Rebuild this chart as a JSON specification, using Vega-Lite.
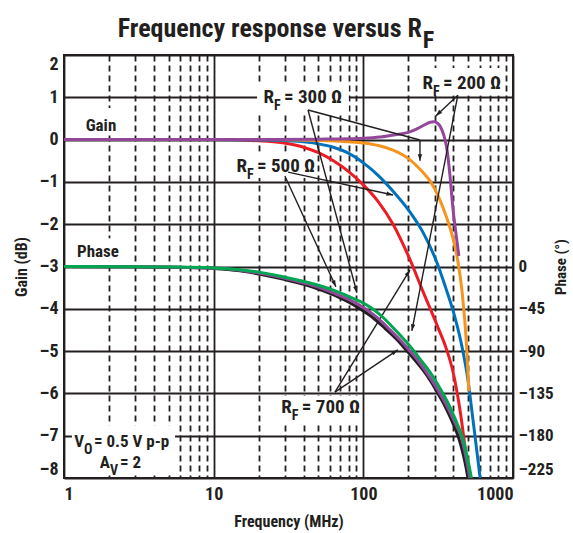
{
  "$schema": "https://vega.github.io/schema/vega-lite/v6.json",
  "width": 449,
  "height": 423,
  "autosize": {"type": "none"},
  "padding": {"left": 64, "top": 55, "right": 60, "bottom": 55},
  "background": "white",
  "config": {
    "font": "Roboto Condensed, Liberation Sans, Arial, sans-serif",
    "view": {"stroke": "#231f20", "strokeWidth": 2},
    "axis": {
      "labelFontWeight": "bold",
      "labelFontSize": 18,
      "labelColor": "#231f20",
      "titleFontWeight": "bold",
      "titleFontSize": 16,
      "titleColor": "#231f20"
    }
  },
  "datasets": {
    "gain": [
      {"rf": "700", "f": 1, "g": 0}, {"rf": "700", "f": 10, "g": 0}, {"rf": "700", "f": 20, "g": -0.03}, {"rf": "700", "f": 31.6, "g": -0.1}, {"rf": "700", "f": 39.8, "g": -0.18}, {"rf": "700", "f": 50.1, "g": -0.31}, {"rf": "700", "f": 63.1, "g": -0.5}, {"rf": "700", "f": 79.4, "g": -0.75}, {"rf": "700", "f": 100, "g": -1.07}, {"rf": "700", "f": 126, "g": -1.47}, {"rf": "700", "f": 158, "g": -2.0}, {"rf": "700", "f": 200, "g": -2.75}, {"rf": "700", "f": 251, "g": -3.6}, {"rf": "700", "f": 316, "g": -4.45}, {"rf": "700", "f": 355, "g": -4.9}, {"rf": "700", "f": 398, "g": -5.5}, {"rf": "700", "f": 447, "g": -6.5}, {"rf": "700", "f": 479, "g": -7.3},
      {"rf": "500", "f": 1, "g": 0}, {"rf": "500", "f": 10, "g": 0}, {"rf": "500", "f": 20, "g": -0.01}, {"rf": "500", "f": 31.6, "g": -0.03}, {"rf": "500", "f": 50.1, "g": -0.1}, {"rf": "500", "f": 63.1, "g": -0.18}, {"rf": "500", "f": 79.4, "g": -0.32}, {"rf": "500", "f": 100, "g": -0.55}, {"rf": "500", "f": 126, "g": -0.85}, {"rf": "500", "f": 158, "g": -1.22}, {"rf": "500", "f": 200, "g": -1.66}, {"rf": "500", "f": 251, "g": -2.2}, {"rf": "500", "f": 316, "g": -2.98}, {"rf": "500", "f": 355, "g": -3.5}, {"rf": "500", "f": 398, "g": -4.05}, {"rf": "500", "f": 447, "g": -4.75}, {"rf": "500", "f": 501, "g": -5.7}, {"rf": "500", "f": 537, "g": -6.55}, {"rf": "500", "f": 575, "g": -7.4}, {"rf": "500", "f": 603, "g": -8.0},
      {"rf": "300", "f": 1, "g": 0}, {"rf": "300", "f": 20, "g": 0}, {"rf": "300", "f": 50.1, "g": -0.02}, {"rf": "300", "f": 79.4, "g": -0.05}, {"rf": "300", "f": 100, "g": -0.08}, {"rf": "300", "f": 126, "g": -0.14}, {"rf": "300", "f": 158, "g": -0.25}, {"rf": "300", "f": 200, "g": -0.45}, {"rf": "300", "f": 224, "g": -0.6}, {"rf": "300", "f": 251, "g": -0.78}, {"rf": "300", "f": 282, "g": -1.0}, {"rf": "300", "f": 316, "g": -1.33}, {"rf": "300", "f": 355, "g": -1.78}, {"rf": "300", "f": 398, "g": -2.35}, {"rf": "300", "f": 427, "g": -2.85}, {"rf": "300", "f": 457, "g": -3.6}, {"rf": "300", "f": 490, "g": -4.9}, {"rf": "300", "f": 507, "g": -5.95},
      {"rf": "200", "f": 1, "g": 0}, {"rf": "200", "f": 20, "g": 0}, {"rf": "200", "f": 50, "g": 0.01}, {"rf": "200", "f": 80, "g": 0.02}, {"rf": "200", "f": 100, "g": 0.03}, {"rf": "200", "f": 130, "g": 0.06}, {"rf": "200", "f": 168, "g": 0.12}, {"rf": "200", "f": 200, "g": 0.17}, {"rf": "200", "f": 230, "g": 0.26}, {"rf": "200", "f": 260, "g": 0.36}, {"rf": "200", "f": 280, "g": 0.41}, {"rf": "200", "f": 295, "g": 0.42}, {"rf": "200", "f": 315, "g": 0.38}, {"rf": "200", "f": 335, "g": 0.23}, {"rf": "200", "f": 350, "g": 0.02}, {"rf": "200", "f": 362, "g": -0.23}, {"rf": "200", "f": 379, "g": -0.84}, {"rf": "200", "f": 397, "g": -1.63}, {"rf": "200", "f": 410, "g": -2.05}, {"rf": "200", "f": 422, "g": -2.4}, {"rf": "200", "f": 435, "g": -2.75}
    ],
    "phase": [
      {"c": "P1", "f": 1, "p": 0}, {"c": "P1", "f": 3, "p": -0.3}, {"c": "P1", "f": 5, "p": -0.7}, {"c": "P1", "f": 10, "p": -2}, {"c": "P1", "f": 15, "p": -4.5}, {"c": "P1", "f": 20, "p": -8}, {"c": "P1", "f": 30, "p": -14}, {"c": "P1", "f": 40, "p": -19}, {"c": "P1", "f": 50, "p": -24}, {"c": "P1", "f": 65, "p": -31}, {"c": "P1", "f": 80, "p": -38}, {"c": "P1", "f": 95, "p": -45}, {"c": "P1", "f": 115, "p": -54}, {"c": "P1", "f": 140, "p": -66}, {"c": "P1", "f": 168, "p": -78}, {"c": "P1", "f": 196, "p": -90}, {"c": "P1", "f": 222, "p": -100}, {"c": "P1", "f": 250, "p": -110}, {"c": "P1", "f": 282, "p": -122}, {"c": "P1", "f": 315, "p": -135}, {"c": "P1", "f": 342, "p": -145}, {"c": "P1", "f": 370, "p": -156}, {"c": "P1", "f": 400, "p": -168}, {"c": "P1", "f": 429, "p": -180}, {"c": "P1", "f": 450, "p": -191}, {"c": "P1", "f": 470, "p": -203}, {"c": "P1", "f": 486, "p": -214}, {"c": "P1", "f": 500, "p": -225},
      {"c": "P2", "f": 1, "p": 0}, {"c": "P2", "f": 3, "p": -0.3}, {"c": "P2", "f": 5, "p": -0.6}, {"c": "P2", "f": 10, "p": -1.7}, {"c": "P2", "f": 15, "p": -4}, {"c": "P2", "f": 20, "p": -7}, {"c": "P2", "f": 30, "p": -12.5}, {"c": "P2", "f": 40, "p": -17.5}, {"c": "P2", "f": 50, "p": -22}, {"c": "P2", "f": 65, "p": -29}, {"c": "P2", "f": 80, "p": -35}, {"c": "P2", "f": 103, "p": -45}, {"c": "P2", "f": 125, "p": -55}, {"c": "P2", "f": 150, "p": -67}, {"c": "P2", "f": 178, "p": -79}, {"c": "P2", "f": 205, "p": -90}, {"c": "P2", "f": 232, "p": -100}, {"c": "P2", "f": 260, "p": -111}, {"c": "P2", "f": 292, "p": -123}, {"c": "P2", "f": 325, "p": -135}, {"c": "P2", "f": 355, "p": -146}, {"c": "P2", "f": 385, "p": -157}, {"c": "P2", "f": 418, "p": -169}, {"c": "P2", "f": 449, "p": -180}, {"c": "P2", "f": 468, "p": -191}, {"c": "P2", "f": 485, "p": -203}, {"c": "P2", "f": 500, "p": -214}, {"c": "P2", "f": 515, "p": -225},
      {"c": "P3", "f": 1, "p": 0}, {"c": "P3", "f": 3, "p": -0.2}, {"c": "P3", "f": 5, "p": -0.5}, {"c": "P3", "f": 10, "p": -1.5}, {"c": "P3", "f": 15, "p": -3.5}, {"c": "P3", "f": 20, "p": -6}, {"c": "P3", "f": 30, "p": -11.5}, {"c": "P3", "f": 40, "p": -16}, {"c": "P3", "f": 50, "p": -20}, {"c": "P3", "f": 65, "p": -26}, {"c": "P3", "f": 80, "p": -32}, {"c": "P3", "f": 100, "p": -39}, {"c": "P3", "f": 115, "p": -45}, {"c": "P3", "f": 135, "p": -54}, {"c": "P3", "f": 160, "p": -66}, {"c": "P3", "f": 188, "p": -78}, {"c": "P3", "f": 218, "p": -90}, {"c": "P3", "f": 246, "p": -101}, {"c": "P3", "f": 278, "p": -112}, {"c": "P3", "f": 310, "p": -124}, {"c": "P3", "f": 340, "p": -135}, {"c": "P3", "f": 370, "p": -146}, {"c": "P3", "f": 398, "p": -157}, {"c": "P3", "f": 428, "p": -169}, {"c": "P3", "f": 455, "p": -180}, {"c": "P3", "f": 477, "p": -191}, {"c": "P3", "f": 495, "p": -203}, {"c": "P3", "f": 512, "p": -214}, {"c": "P3", "f": 527, "p": -225}
    ],
    "boxes": [
      {"f": 1.13, "f2": 5.52, "g": -6.75, "g2": -7.86},
      {"f": 19.5, "f2": 80, "g": 1.29, "g2": 0.63},
      {"f": 239, "f2": 830, "g": 1.69, "g2": 1.05},
      {"f": 14.1, "f2": 49, "g": -0.29, "g2": -0.91},
      {"f": 27.7, "f2": 97, "g": -6.06, "g2": -6.68},
      {"f": 1.36, "f2": 2.29, "g": 0.75, "g2": 0.13},
      {"f": 1.2, "f2": 2.37, "g": -2.33, "g2": -2.89}
    ],
    "arrows": [
      {"f": 42.7, "g": 0.7, "f2": 239, "g2": -0.01, "head": false},
      {"f": 239, "g": -0.01, "f2": 239, "g2": -0.5, "head": true},
      {"f": 42.7, "g": 0.7, "f2": 90.6, "g2": -3.62, "head": true},
      {"f": 31.4, "g": -0.77, "f2": 158, "g2": -1.31, "head": true},
      {"f": 29.9, "g": -0.86, "f2": 65.6, "g2": -3.48, "head": true},
      {"f": 428, "g": 1.05, "f2": 305, "g2": 0.56, "head": true},
      {"f": 428, "g": 1.05, "f2": 211, "g2": -4.52, "head": true},
      {"f": 64.6, "g": -5.97, "f2": 205, "g2": -3.08, "head": true},
      {"f": 64.6, "g": -5.97, "f2": 170, "g2": -4.97, "head": true}
    ],
    "labels": [
      {"f": 25.3, "g": 0.865, "pre": "R", "sub": "F", "post": "= 300 Ω"},
      {"f": 292, "g": 1.196, "pre": "R", "sub": "F", "post": "= 200 Ω"},
      {"f": 16.7, "g": -0.766, "pre": "R", "sub": "F", "post": "= 500 Ω"},
      {"f": 33.3, "g": -6.46, "pre": "R", "sub": "F", "post": "= 700 Ω"},
      {"f": 1.36, "g": -7.27, "pre": "V", "sub": "O", "post": " = 0.5 V p-p"},
      {"f": 2.03, "g": -7.76, "pre": "A", "sub": "V", "post": " = 2"}
    ],
    "plain": [
      {"f": 1.766, "g": 0.203, "t": "Gain"},
      {"f": 1.687, "g": -2.78, "t": "Phase"}
    ],
    "title": [
      {"f": 246, "g": 2.43, "pre": "Frequency response versus R", "sub": "F"}
    ]
  },
  "layer": [
    {
      "layer": [
        {
          "data": {"name": "boxes"},
          "mark": {"type": "rect", "color": "white"},
          "encoding": {
            "x": {
              "field": "f", "type": "quantitative",
              "scale": {"type": "log", "domain": [1, 1000], "nice": false},
              "axis": {
                "values": [1, 2, 3, 4, 5, 6, 7, 8, 9, 10, 20, 30, 40, 50, 60, 70, 80, 90, 100, 200, 300, 400, 500, 600, 700, 800, 900, 1000],
                "format": "d",
                "labelExpr": "(datum.value == 1 || datum.value == 10 || datum.value == 100 || datum.value == 1000) ? datum.label : ''",
                "labelOverlap": false,
                "labelFlush": true,
                "labelPadding": 7,
                "grid": true,
                "gridColor": "#231f20",
                "gridOpacity": 1,
                "gridWidth": 1.8,
                "gridDash": {"condition": {"test": "datum.value == 1 || datum.value == 10 || datum.value == 100 || datum.value == 1000", "value": []}, "value": [6, 4]},
                "ticks": false,
                "domain": false,
                "title": "Frequency (MHz)",
                "titlePadding": 10
              }
            },
            "x2": {"field": "f2"},
            "y": {
              "field": "g", "type": "quantitative",
              "scale": {"domain": [-8, 2], "nice": false, "zero": false},
              "axis": {
                "orient": "left",
                "values": [-8, -7, -6, -5, -4, -3, -2, -1, 0, 1, 2],
                "labelExpr": "datum.value < 0 ? '–' + abs(datum.value) : datum.label",
                "labelFlush": true,
                "labelPadding": 6,
                "grid": true,
                "gridColor": "#231f20",
                "gridOpacity": 1,
                "gridWidth": 1.8,
                "ticks": false,
                "domain": false,
                "title": "Gain (dB)",
                "titlePadding": 10
              }
            },
            "y2": {"field": "g2"}
          }
        },
        {
          "data": {"name": "gain"},
          "transform": [{"filter": "datum.rf == '700'"}],
          "mark": {"type": "line", "color": "#ed1c24", "strokeWidth": 3, "interpolate": "monotone"},
          "encoding": {"x": {"field": "f", "type": "quantitative"}, "y": {"field": "g", "type": "quantitative"}}
        },
        {
          "data": {"name": "gain"},
          "transform": [{"filter": "datum.rf == '500'"}],
          "mark": {"type": "line", "color": "#0072bc", "strokeWidth": 3, "interpolate": "monotone"},
          "encoding": {"x": {"field": "f", "type": "quantitative"}, "y": {"field": "g", "type": "quantitative"}}
        },
        {
          "data": {"name": "gain"},
          "transform": [{"filter": "datum.rf == '300'"}],
          "mark": {"type": "line", "color": "#f7941d", "strokeWidth": 3, "interpolate": "monotone"},
          "encoding": {"x": {"field": "f", "type": "quantitative"}, "y": {"field": "g", "type": "quantitative"}}
        },
        {
          "data": {"name": "gain"},
          "transform": [{"filter": "datum.rf == '200'"}],
          "mark": {"type": "line", "color": "#93479b", "strokeWidth": 3, "interpolate": "monotone"},
          "encoding": {"x": {"field": "f", "type": "quantitative"}, "y": {"field": "g", "type": "quantitative"}}
        },
        {
          "data": {"name": "arrows"},
          "mark": {"type": "rule", "color": "#231f20", "strokeWidth": 1.4},
          "encoding": {
            "x": {"field": "f", "type": "quantitative"},
            "x2": {"field": "f2"},
            "y": {"field": "g", "type": "quantitative"},
            "y2": {"field": "g2"}
          }
        },
        {
          "data": {"name": "arrows"},
          "transform": [
            {"filter": "datum.head"},
            {"calculate": "atan2((log(datum.f2) - log(datum.f)) / LN10 * 149.7, (datum.g2 - datum.g) * 42.3) * 180 / PI", "as": "ang"}
          ],
          "mark": {"type": "point", "shape": "M0,0L-0.4,1.2L0.4,1.2Z", "filled": true, "color": "#231f20", "size": 120, "opacity": 1},
          "encoding": {
            "x": {"field": "f2", "type": "quantitative"},
            "y": {"field": "g2", "type": "quantitative"},
            "angle": {"field": "ang", "type": "quantitative", "scale": null}
          }
        },
        {
          "data": {"name": "labels"},
          "mark": {"type": "text", "align": "right", "baseline": "alphabetic", "fontWeight": "bold", "color": "#231f20"},
          "encoding": {
            "x": {"field": "f", "type": "quantitative"}, "y": {"field": "g", "type": "quantitative"}, "text": {"field": "pre"},
            "size": {"condition": {"test": "datum.pre == 'R'", "value": 19}, "value": 17}
          }
        },
        {
          "data": {"name": "labels"},
          "mark": {"type": "text", "align": "left", "baseline": "alphabetic", "fontWeight": "bold", "dy": 7, "color": "#231f20"},
          "encoding": {
            "x": {"field": "f", "type": "quantitative"}, "y": {"field": "g", "type": "quantitative"}, "text": {"field": "sub"},
            "size": {"condition": {"test": "datum.pre == 'R'", "value": 14}, "value": 14}
          }
        },
        {
          "data": {"name": "labels"},
          "mark": {"type": "text", "align": "left", "baseline": "alphabetic", "fontWeight": "bold", "dx": 10, "color": "#231f20"},
          "encoding": {
            "x": {"field": "f", "type": "quantitative"}, "y": {"field": "g", "type": "quantitative"}, "text": {"field": "post"},
            "size": {"condition": {"test": "datum.pre == 'R'", "value": 19}, "value": 17}
          }
        },
        {
          "data": {"name": "plain"},
          "mark": {"type": "text", "align": "center", "baseline": "alphabetic", "fontSize": 17, "fontWeight": "bold", "color": "#231f20"},
          "encoding": {"x": {"field": "f", "type": "quantitative"}, "y": {"field": "g", "type": "quantitative"}, "text": {"field": "t"}}
        },
        {
          "data": {"name": "title"},
          "mark": {"type": "text", "align": "right", "baseline": "alphabetic", "fontSize": 26, "fontWeight": "bold", "color": "#231f20"},
          "encoding": {"x": {"field": "f", "type": "quantitative"}, "y": {"field": "g", "type": "quantitative"}, "text": {"field": "pre"}}
        },
        {
          "data": {"name": "title"},
          "mark": {"type": "text", "align": "left", "baseline": "alphabetic", "fontSize": 24, "fontWeight": "bold", "dy": 11, "dx": 1, "color": "#231f20"},
          "encoding": {"x": {"field": "f", "type": "quantitative"}, "y": {"field": "g", "type": "quantitative"}, "text": {"field": "sub"}}
        }
      ]
    },
    {
      "data": {"name": "phase"},
      "layer": [
        {
          "transform": [{"filter": "datum.c == 'P1'"}],
          "mark": {"type": "line", "color": "#231f20", "strokeWidth": 3, "interpolate": "monotone"},
          "encoding": {
            "x": {"field": "f", "type": "quantitative"},
            "y": {
              "field": "p", "type": "quantitative",
              "scale": {"domain": [-225, 225], "nice": false, "zero": false},
              "axis": {
                "orient": "right",
                "values": [0, -45, -90, -135, -180, -225],
                "labelExpr": "datum.value < 0 ? '–' + abs(datum.value) : datum.label",
                "labelFontSize": 17,
                "labelFlush": true,
                "labelPadding": 5,
                "grid": false,
                "ticks": false,
                "domain": false,
                "title": "Phase (°)",
                "titleFontSize": 15,
                "titleAngle": 270,
                "titleBaseline": "top",
                "titlePadding": 0
              }
            }
          }
        },
        {
          "transform": [{"filter": "datum.c == 'P2'"}],
          "mark": {"type": "line", "color": "#93479b", "strokeWidth": 3, "interpolate": "monotone"},
          "encoding": {"x": {"field": "f", "type": "quantitative"}, "y": {"field": "p", "type": "quantitative"}}
        },
        {
          "transform": [{"filter": "datum.c == 'P3'"}],
          "mark": {"type": "line", "color": "#00a651", "strokeWidth": 3, "interpolate": "monotone"},
          "encoding": {"x": {"field": "f", "type": "quantitative"}, "y": {"field": "p", "type": "quantitative"}}
        }
      ]
    }
  ],
  "resolve": {"scale": {"y": "independent"}, "axis": {"y": "independent"}}
}
